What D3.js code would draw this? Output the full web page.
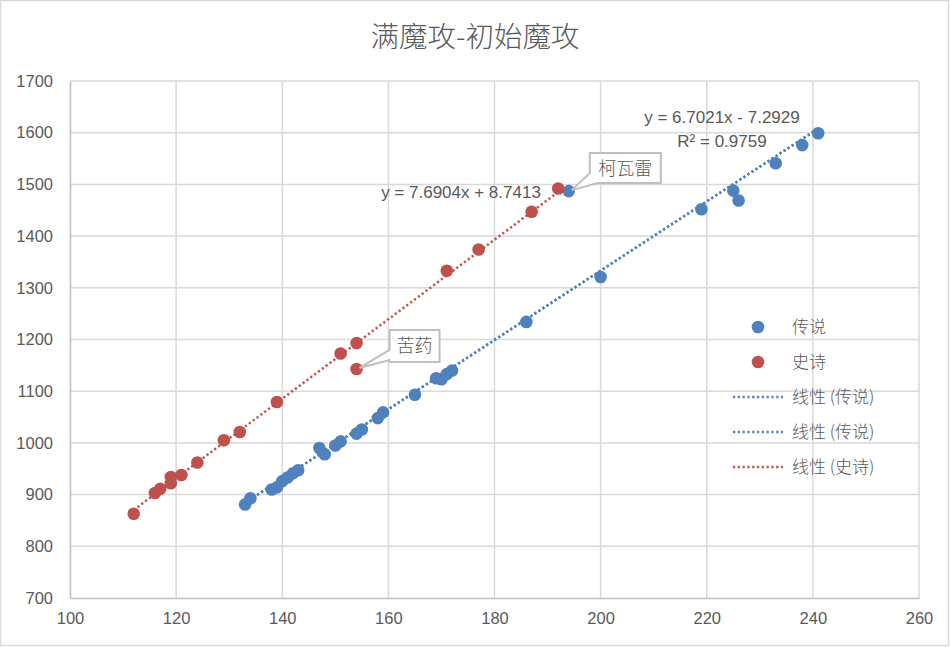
<!DOCTYPE html>
<html><head><meta charset="utf-8">
<script src="https://cdn.jsdelivr.net/npm/d3@7"></script>
<style>
html,body{margin:0;padding:0;background:#fff;}
svg{display:block;}
</style></head>
<body>
<svg id="chart" width="950" height="648"></svg>
<script>
// ---------- data ----------
const chartTitle = "满魔攻-初始魔攻";
const xTicks = [100, 120, 140, 160, 180, 200, 220, 240, 260];
const yTicks = [700, 800, 900, 1000, 1100, 1200, 1300, 1400, 1500, 1600, 1700];

// 传说 (legendary)
const legendX = [133, 134, 138, 139, 140, 141, 142, 143, 147, 148, 150, 151, 154, 155, 158, 159, 165, 169, 170, 171, 172, 186, 194, 200, 219, 225, 226, 233, 238, 241];
const legendY = [881, 893, 910, 914, 926, 933, 941, 947, 990, 978, 995, 1003, 1018, 1026, 1048, 1059, 1093, 1125, 1123, 1133, 1140, 1234, 1487, 1321, 1452, 1488, 1469, 1541, 1576, 1599];
// 史诗 (epic)
const epicX = [112, 116, 117, 119, 119, 121, 124, 129, 132, 139, 151, 154, 154, 171, 177, 187, 192];
const epicY = [863, 903, 911, 934, 922, 938, 962, 1005, 1021, 1079, 1173, 1193, 1143, 1333, 1374, 1447, 1492];

// trendline coefficients (slope, intercept) as displayed
const legendTrend = [6.7021, -7.2929];
const epicTrend = [7.6904, 8.7413];
const legendTrendLabel = ["y = 6.7021x - 7.2929", "R² = 0.9759"];
const epicTrendLabel = "y = 7.6904x + 8.7413";

// callout labels
const calloutNames = ["柯瓦雷", "苦药"];
const calloutX = [194, 154];
const calloutY = [1487, 1143];

const legendLabels = ["传说", "史诗", "线性 (传说)", "线性 (传说)", "线性 (史诗)"];

// ---------- drawing ----------
const BLUE = "#4F81BD", RED = "#C0504D", TXT = "#595959";
const numFont = "'Liberation Sans', Arial, sans-serif";
const cjkFont = "'Noto Sans CJK SC', 'Noto Sans', sans-serif";

const svg = d3.select("#chart");
const W = 950, H = 648;
const m = {left: 70, right: 919, top: 81, bottom: 598};

svg.append("rect").attr("x", 0.5).attr("y", 0.5).attr("width", W - 2).attr("height", H - 3)
  .attr("fill", "#fff").attr("stroke", "#d9d9d9").attr("stroke-width", 1.5);

const x = d3.scaleLinear().domain([100, 260]).range([m.left, m.right]);
const y = d3.scaleLinear().domain([700, 1700]).range([m.bottom, m.top]);

// grid
const grid = svg.append("g");
grid.selectAll("line.v").data(xTicks.slice(1)).join("line")
  .attr("x1", d => x(d)).attr("x2", d => x(d)).attr("y1", m.top).attr("y2", m.bottom)
  .attr("stroke", "#d9d9d9").attr("stroke-width", 1.5);
grid.selectAll("line.h").data(yTicks.slice(1)).join("line")
  .attr("x1", m.left).attr("x2", m.right).attr("y1", d => y(d)).attr("y2", d => y(d))
  .attr("stroke", "#d9d9d9").attr("stroke-width", 1.5);

// axes
const xAxis = d3.axisBottom(x).tickValues(xTicks).tickFormat(d3.format("d")).tickSize(0).tickPadding(14);
const yAxis = d3.axisLeft(y).tickValues(yTicks).tickFormat(d3.format("d")).tickSize(0).tickPadding(17);
const gx = svg.append("g").attr("transform", `translate(0,${m.bottom})`).call(xAxis);
const gy = svg.append("g").attr("transform", `translate(${m.left},0)`).call(yAxis);
[gx, gy].forEach(g => {
  g.select(".domain").attr("stroke", "#bfbfbf").attr("stroke-width", 1.5);
  g.selectAll("text").attr("fill", TXT).style("font-family", numFont).style("font-size", "16.5px");
});

// trendlines
function trend(coef, xs, color) {
  const ext = d3.extent(xs);
  const line = d3.line().x(d => x(d)).y(d => y(coef[0] * d + coef[1]));
  svg.append("path").datum(ext).attr("d", line)
    .attr("fill", "none").attr("stroke", color).attr("stroke-width", 2.5)
    .attr("stroke-dasharray", "2.2 2.6");
}
trend(legendTrend, legendX, BLUE);
trend(legendTrend, legendX, BLUE);
trend(epicTrend, epicX, RED);

// points
svg.append("g").selectAll("circle").data(legendX.map((d, i) => [d, legendY[i]])).join("circle")
  .attr("cx", d => x(d[0])).attr("cy", d => y(d[1])).attr("r", 6.3).attr("fill", BLUE);
svg.append("g").selectAll("circle").data(epicX.map((d, i) => [d, epicY[i]])).join("circle")
  .attr("cx", d => x(d[0])).attr("cy", d => y(d[1])).attr("r", 6.3).attr("fill", RED);

// trend equation labels
const eqStyle = s => s.attr("fill", TXT).style("font-family", numFont).style("font-size", "17px").attr("text-anchor", "middle");
svg.append("text").attr("x", 722).attr("y", 123).text(legendTrendLabel[0]).call(eqStyle);
svg.append("text").attr("x", 722).attr("y", 147).text(legendTrendLabel[1]).call(eqStyle);
svg.append("text").attr("x", 461).attr("y", 198).text(epicTrendLabel).call(eqStyle);

// callouts
const calloutBoxes = [
  {dx: 21, dy: -38, w: 71, h: 30, tail: "corner"},
  {dx: 33, dy: -39, w: 50, h: 32, tail: "left"}
];
calloutNames.forEach((name, i) => {
  const px = x(calloutX[i]), py = y(calloutY[i]);
  const b = calloutBoxes[i];
  const L = px + b.dx, T = py + b.dy, R = L + b.w, B = T + b.h;
  const tipX = px + 3, tipY = py - 1;
  let d;
  if (b.tail === "corner") {
    d = `M${L},${T} H${R} V${B} H${L + 8} L${tipX},${tipY} L${L},${B - 10} Z`;
  } else {
    d = `M${L},${T} H${R} V${B} H${L} V${B - 2} L${tipX},${tipY} L${L},${B - 12} Z`;
  }
  svg.append("path").attr("d", d).attr("fill", "#fff").attr("stroke", "#bfbfbf").attr("stroke-width", 2)
    .attr("stroke-linejoin", "miter");
  svg.append("text").attr("x", (L + R) / 2).attr("y", (T + B) / 2 + 6.5).attr("text-anchor", "middle")
    .attr("fill", TXT).style("font-family", cjkFont).style("font-size", "18px").style("font-weight", 300).text(name);
});

// legend
const legendColors = [BLUE, RED, BLUE, BLUE, RED];
const lg = svg.append("g");
legendLabels.forEach((lab, i) => {
  const cy = 327 + i * 35;
  if (i < 2) {
    lg.append("circle").attr("cx", 758).attr("cy", cy).attr("r", 6.3).attr("fill", legendColors[i]);
  } else {
    lg.append("line").attr("x1", 733).attr("x2", 783).attr("y1", cy).attr("y2", cy)
      .attr("stroke", legendColors[i]).attr("stroke-width", 2.5).attr("stroke-dasharray", "2.2 2.6");
  }
  lg.append("text").attr("x", 792).attr("y", cy + 6).attr("fill", TXT)
    .style("font-family", cjkFont).style("font-size", "17px").style("font-weight", 300).text(lab);
});

// title
svg.append("text").attr("x", 475).attr("y", 47).attr("text-anchor", "middle").attr("fill", TXT)
  .style("font-family", cjkFont).style("font-size", "28.5px").style("font-weight", 300).text(chartTitle);
</script>
</body></html>
